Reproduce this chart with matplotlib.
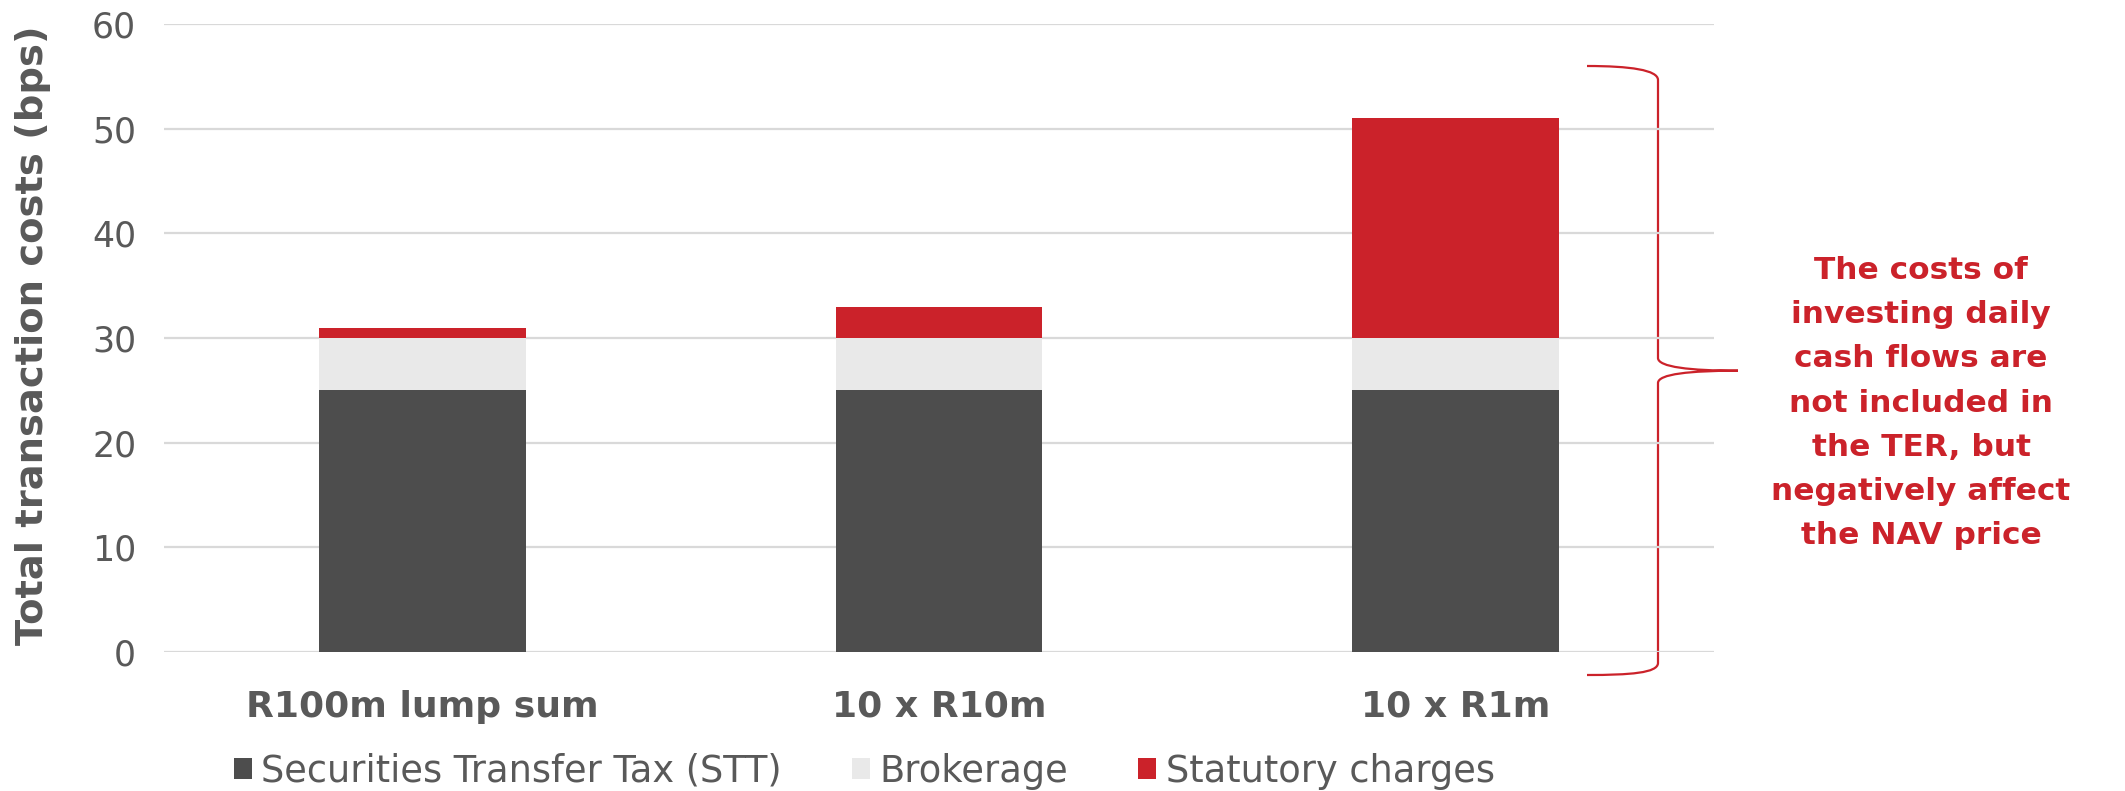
import matplotlib.pyplot as plt
import numpy as np
from matplotlib.path import Path
from matplotlib.patches import PathPatch

categories = ['R100m lump sum', '10 x R10m', '10 x R1m']
stt = [25, 25, 25]
brokerage = [5, 5, 5]
statutory = [1, 3, 21]
series_names = ['Securities Transfer Tax (STT)', 'Brokerage', 'Statutory charges']
note = ('The costs of\ninvesting daily\ncash flows are\nnot included in\n'
        'the TER, but\nnegatively affect\nthe NAV price')

dark = '#4d4d4d'
light = '#e9e9e9'
red = '#cb222a'
grey_txt = '#595959'

plt.rcParams['font.family'] = 'DejaVu Sans'

fig = plt.figure(figsize=(21.25, 7.91), dpi=100)
ax = fig.add_axes([164/2125, 1-652/791, 1550/2125, 628/791])

x = np.arange(len(categories))
w = 0.4
b1 = ax.bar(x, stt, w, color=dark, label=series_names[0], zorder=3)
b2 = ax.bar(x, brokerage, w, bottom=stt, color=light, label=series_names[1], zorder=3)
bottom3 = np.array(stt) + np.array(brokerage)
b3 = ax.bar(x, statutory, w, bottom=bottom3, color=red, label=series_names[2], zorder=3)

ax.set_xlim(-0.5, 2.5)
ax.set_ylim(0, 60)
ax.set_yticks(range(0, 61, 10))
ax.set_xticks(x)
ax.set_xticklabels(categories, fontsize=26, fontweight='bold', color=grey_txt)
ax.tick_params(axis='y', length=0, pad=20, labelsize=25, labelcolor=grey_txt)
ax.tick_params(axis='x', length=0, pad=27)
ax.grid(axis='y', color='#d9d9d9', linewidth=1.6, zorder=0)
for s in ax.spines.values():
    s.set_visible(False)
ax.set_ylabel('Total transaction costs (bps)', fontsize=27.7, fontweight='bold',
              color=grey_txt)
ax.yaxis.set_label_coords(-0.073, 0.505)

fig.legend(handles=[b1, b2, b3], loc='center', bbox_to_anchor=(0.4066, 0.025),
           ncol=3, frameon=False, fontsize=26.5, labelcolor=grey_txt,
           handlelength=0.5, handleheight=0.5, handletextpad=0.25,
           columnspacing=1.9)

# curly brace
def axp(px, py):
    return ((px - 164) / 1550, (652 - py) / 628)

pts = [(1587, 66), (1630, 66), (1658, 70), (1658, 80),
       (1658, 358),
       (1658, 367), (1690, 370.7), (1738, 370.7),
       (1690, 370.7), (1658, 374), (1658, 383),
       (1658, 663),
       (1658, 673), (1630, 675), (1587, 675)]
codes = [Path.MOVETO, Path.CURVE4, Path.CURVE4, Path.CURVE4,
         Path.LINETO,
         Path.CURVE4, Path.CURVE4, Path.CURVE4,
         Path.CURVE4, Path.CURVE4, Path.CURVE4,
         Path.LINETO,
         Path.CURVE4, Path.CURVE4, Path.CURVE4]
brace = PathPatch(Path([axp(*p) for p in pts], codes), fill=False,
                  edgecolor=red, linewidth=1.6, transform=ax.transAxes,
                  clip_on=False)
ax.add_patch(brace)

fig.text(1921/2125, 1-403/791, note, ha='center', va='center', color=red,
         fontsize=22.5, fontweight='bold', linespacing=1.66)

fig.savefig('out.png', dpi=100)
